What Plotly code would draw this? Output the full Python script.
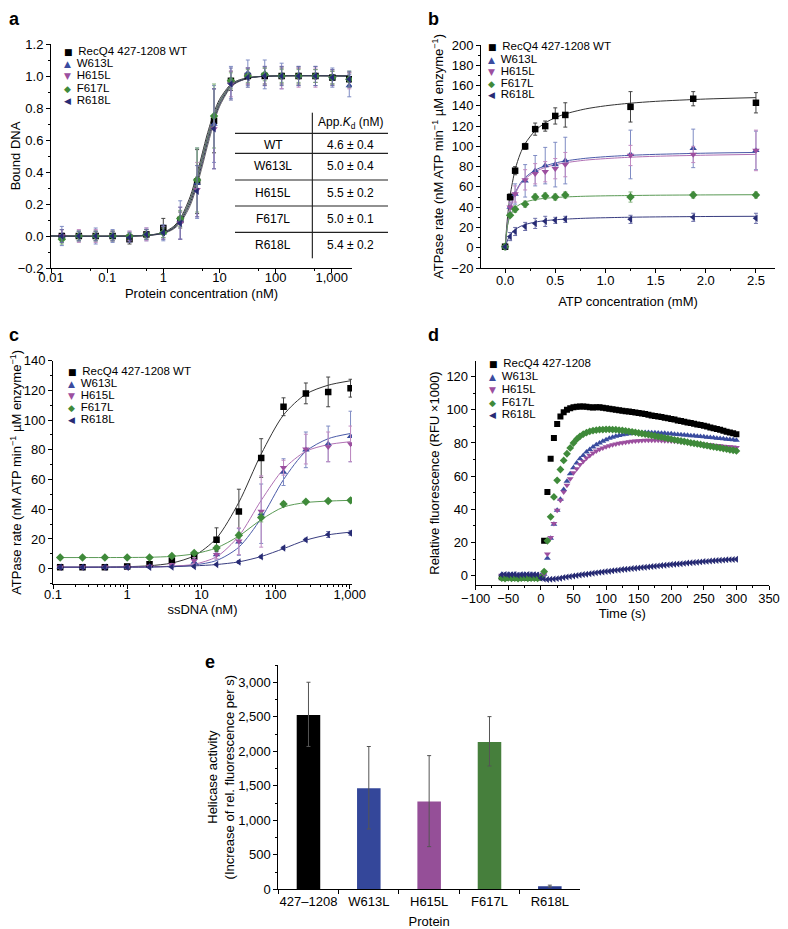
import plotly.graph_objects as go

# The page body keeps its default 8 px margin, so the figure is drawn 8 px
# in from the window's top-left corner; size it to fill the rest exactly.
WIN_W, WIN_H = 788, 929
OFF = 8
W, H = WIN_W - OFF, WIN_H - OFF

# ---------------- shared series info ----------------
series_names = ["RecQ4 427-1208 WT", "W613L", "H615L", "F617L", "R618L"]
series_names_d = ["RecQ4 427-1208", "W613L", "H615L", "F617L", "R618L"]
colors = ["#000000", "#3a4c9f", "#9c4f9f", "#3f8a3a", "#272b74"]
err_colors = ["#444444", "#7f8cc4", "#c08ac2", "#7fae78", "#6c6fa8"]
fit_colors = ["#333333", "#4a5aa8", "#b070b4", "#5a9a55", "#383c80"]
symbols = ["square", "triangle-up", "triangle-down", "diamond", "triangle-left"]
glyphs = ["\u25A0", "\u25B2", "\u25BC", "\u25C6", "\u25C0"]

# ---------------- panel a: DNA binding ----------------
a_conc = [0.0156, 0.0313, 0.0625, 0.125, 0.25, 0.5, 1, 2, 4, 8, 16, 32, 64, 128, 256, 512, 1024, 2048]
a_wt = [0.0, 0.0, 0.0, 0.0, -0.02, 0.01, 0.05, 0.10, 0.34, 0.72, 0.97, 1.0, 1.0, 1.0, 1.0, 1.0, 0.99, 0.98]
a_w613 = [0.0, 0.0, 0.0, 0.0, 0.0, 0.01, 0.02, 0.10, 0.33, 0.70, 0.96, 1.02, 1.01, 1.0, 1.0, 1.0, 0.99, 0.94]
a_h615 = [0.0, 0.0, 0.0, 0.0, 0.0, 0.01, 0.02, 0.08, 0.29, 0.67, 0.95, 1.0, 1.0, 0.99, 0.99, 0.99, 0.99, 0.97]
a_f617 = [-0.02, 0.0, 0.0, 0.0, 0.0, 0.01, 0.02, 0.11, 0.35, 0.75, 0.97, 1.0, 1.01, 1.0, 1.0, 1.0, 0.99, 0.98]
a_r618 = [0.0, 0.0, 0.0, 0.0, -0.01, 0.01, 0.02, 0.08, 0.28, 0.67, 0.95, 0.99, 1.0, 1.0, 1.0, 1.0, 0.99, 0.98]
a_wt_err = [0.04, 0.03, 0.03, 0.03, 0.03, 0.03, 0.06, 0.05, 0.20, 0.20, 0.06, 0.05, 0.05, 0.05, 0.05, 0.04, 0.04, 0.04]
a_w613_err = [0.06, 0.03, 0.05, 0.04, 0.03, 0.04, 0.05, 0.12, 0.22, 0.24, 0.10, 0.08, 0.09, 0.08, 0.06, 0.06, 0.06, 0.07]
a_h615_err = [0.04, 0.04, 0.04, 0.03, 0.03, 0.04, 0.04, 0.10, 0.17, 0.25, 0.08, 0.05, 0.06, 0.07, 0.06, 0.06, 0.05, 0.05]
a_f617_err = [0.03, 0.03, 0.03, 0.03, 0.02, 0.03, 0.03, 0.05, 0.20, 0.20, 0.05, 0.04, 0.04, 0.04, 0.04, 0.04, 0.04, 0.05]
a_r618_err = [0.04, 0.03, 0.03, 0.03, 0.03, 0.03, 0.04, 0.10, 0.16, 0.25, 0.10, 0.06, 0.06, 0.06, 0.06, 0.06, 0.05, 0.05]
# fitted binding curves
a_fit_x = [0.01, 0.5, 1, 1.5, 2, 3, 4, 5, 6, 8, 10, 15, 20, 40, 2100]
a_fit_wt = [0.0, 0.004, 0.023, 0.058, 0.109, 0.245, 0.392, 0.524, 0.631, 0.773, 0.853, 0.939, 0.969, 0.994, 1.0]
a_fit_w613 = [0.0, 0.004, 0.021, 0.053, 0.100, 0.227, 0.369, 0.500, 0.608, 0.755, 0.840, 0.933, 0.965, 0.993, 1.0]
a_fit_h615 = [0.0, 0.003, 0.016, 0.042, 0.081, 0.189, 0.318, 0.443, 0.552, 0.711, 0.808, 0.917, 0.957, 0.992, 1.0]
a_fit_f617 = [0.0, 0.004, 0.020, 0.051, 0.097, 0.221, 0.360, 0.490, 0.598, 0.747, 0.833, 0.930, 0.963, 0.993, 1.0]
a_fit_r618 = [0.0, 0.003, 0.018, 0.047, 0.089, 0.205, 0.338, 0.465, 0.575, 0.730, 0.820, 0.924, 0.960, 0.992, 1.0]
# table
kd_rows = ["WT", "W613L", "H615L", "F617L", "R618L"]
kd_vals = ["4.6 \u00b1 0.4", "5.0 \u00b1 0.4", "5.5 \u00b1 0.2", "5.0 \u00b1 0.1", "5.4 \u00b1 0.2"]

# ---------------- panel b: ATPase vs ATP ----------------
b_atp = [0.0, 0.05, 0.1, 0.2, 0.3, 0.4, 0.5, 0.6, 1.25, 1.875, 2.5]
b_wt = [1, 50, 76, 100, 117, 120, 130, 131, 139, 147, 143]
b_w613 = [1, 40, 53, 66, 76, 81, 82, 86, 92, 98, 96]
b_h615 = [1, 40, 53, 67, 73, 75, 78, 82, 91, 92, 96]
b_f617 = [1, 32, 38, 43, 50, 51, 50, 52, 50, 52, 52]
b_r618 = [1, 11, 16, 21, 24, 26, 27, 28, 28, 30, 29]
b_wt_err = [0, 3, 4, 3, 6, 5, 8, 12, 15, 7, 10]
b_w613_err = [0, 5, 10, 16, 15, 18, 22, 23, 24, 19, 19]
b_h615_err = [0, 5, 8, 10, 10, 10, 10, 12, 10, 8, 20]
b_f617_err = [0, 2, 3, 3, 3, 3, 3, 3, 5, 3, 3]
b_r618_err = [0, 4, 4, 4, 5, 5, 3, 3, 4, 4, 5]
b_fit_x = [0, 0.025, 0.05, 0.1, 0.15, 0.2, 0.3, 0.4, 0.5, 0.6, 0.8, 1.0, 1.25, 1.5, 2.0, 2.5]
b_fit_wt = [0, 30.8, 51.3, 77.0, 92.4, 102.7, 115.5, 123.2, 128.3, 132.0, 136.9, 140.0, 142.6, 144.4, 146.7, 148.1]
b_fit_w613 = [0, 23.1, 37.3, 53.9, 63.3, 69.3, 76.6, 80.8, 83.6, 85.6, 88.2, 89.8, 91.2, 92.1, 93.3, 94.0]
b_fit_h615 = [0, 22.6, 36.5, 52.8, 62.0, 67.9, 75.0, 79.2, 81.9, 83.8, 86.4, 87.9, 89.3, 90.2, 91.3, 92.1]
b_fit_f617 = [0, 22.1, 31.2, 39.3, 42.9, 45.1, 47.5, 48.8, 49.5, 50.1, 50.8, 51.2, 51.5, 51.8, 52.1, 52.3]
b_fit_r618 = [0, 7.6, 12.3, 17.8, 20.9, 22.9, 25.3, 26.7, 27.6, 28.2, 29.1, 29.6, 30.1, 30.4, 30.8, 31.0]

# ---------------- panel c: ATPase vs ssDNA ----------------
c_dna = [0.125, 0.25, 0.5, 1, 2, 4, 8, 16, 32, 64, 128, 256, 512, 1024]
c_wt = [1, 1, 1, 1.5, 3, 5.5, 8.5, 19.5, 38.5, 74.5, 109, 118, 119, 121.5]
c_w613 = [1, 1, 1, 1, 1.5, 2, 4.5, 9.5, 18, 37, 65, 80, 84, 89]
c_h615 = [1, 1, 1, 1, 1.5, 2.5, 5.5, 9.5, 18.5, 38.5, 68, 80.5, 82, 84]
c_f617 = [7.5, 7.5, 7.5, 7.5, 7.5, 8.5, 10.5, 14, 22.5, 34.5, 43.5, 45, 45.5, 46]
c_r618 = [1, 1, 1, 1, 1, 1.2, 1.5, 2.8, 4.5, 8, 14, 19.5, 23, 24]
c_wt_err = [0.5, 0.5, 0.5, 0.5, 1, 1.5, 3, 8, 15, 13, 6, 7, 10, 6]
c_w613_err = [0.5, 0.5, 0.5, 0.5, 0.5, 1, 2, 3, 9, 20, 9, 12, 12, 17]
c_h615_err = [0.5, 0.5, 0.5, 0.5, 0.5, 1, 2, 3, 9, 24, 5, 10, 10, 12]
c_f617_err = [0.5, 0.5, 0.5, 0.5, 0.5, 1, 1, 1.5, 2, 3, 1.5, 1, 1, 1]
c_r618_err = [0.5, 0.5, 0.5, 0.5, 0.5, 0.5, 0.5, 0.5, 1, 1, 1, 1, 2, 1.5]
c_fit_x = [0.125, 0.5, 1, 2, 4, 8, 16, 32, 64, 128, 256, 512, 1024]
c_fit_wt = [1.0, 1.1, 1.35, 2.0, 3.8, 8.7, 20.5, 44.7, 77.2, 103.5, 117.5, 123.5, 126.5]
c_fit_w613 = [1.0, 1.0, 1.05, 1.2, 1.6, 2.5, 5.5, 14.5, 34, 60, 79, 87.5, 91]
c_fit_h615 = [1.0, 1.0, 1.05, 1.2, 1.7, 3.0, 8, 22, 46, 67, 79, 83.5, 85.5]
c_fit_f617 = [7.5, 7.5, 7.55, 7.7, 8.3, 10, 14, 22, 33, 41.5, 44.5, 45.5, 46]
c_fit_r618 = [1.0, 1.0, 1.05, 1.15, 1.4, 1.9, 2.8, 4.6, 8.2, 13.5, 19.2, 22.8, 24.6]

# ---------------- panel d: helicase time course ----------------
d_time = list(range(-60, 305, 5))
d_wt = [-1.0, -1.2, -0.8, -1.0, -1.3, -0.9, -1.1, -1.0, -1.2, -0.9, -1.0, -1.1, -0.8,
        21, 50.5, 70.5, 83, 91.5, 96, 98.5, 100, 101, 101.5, 101.8, 102, 102, 101.8, 101.6, 101.4,
        101.5, 101.6, 101.2, 101, 100.6, 100.3, 100, 99.8, 99.5, 99.2, 99, 98.6, 98.3, 98,
        97.7, 97.4, 97, 96.6, 96.3, 96, 95.6, 95.2, 94.9, 94.5, 94.1, 93.6, 93.2, 92.8,
        92.4, 92, 91.6, 91.2, 90.8, 90.4, 89.9, 89.4, 88.9, 88.4, 87.9, 87.3, 86.8, 86.3, 85.8, 85.2]
d_w613 = [0.8, 0.6, 0.9, 0.7, 0.8, 0.5, 0.7, 0.9, 0.6, 0.8, 0.7, 0.6, 0.3,
          0.8, 10.5, 22.5, 31, 39.5, 46, 52, 57, 61.5, 65, 68, 70.5, 72.5, 74.5, 76, 77.5,
          79, 80, 81, 82, 82.8, 83.5, 84, 84.5, 85, 85.3, 85.6, 85.8, 86, 86.1,
          86.2, 86.3, 86.3, 86.2, 86.1, 86, 85.9, 85.8, 85.6, 85.5, 85.3, 85.1, 85, 84.8,
          84.6, 84.4, 84.3, 84.1, 83.9, 83.7, 83.5, 83.3, 83.1, 82.9, 82.7, 82.5, 82.3, 82.1, 81.9, 81.7]
d_h615 = [0.2, 0.0, 0.3, 0.1, -0.1, 0.2, 0.0, 0.1, 0.3, 0.0, 0.1, 0.2, 0.0,
          1.0, 13, 23, 31.5, 39.5, 45.5, 50.5, 54.5, 58.5, 62, 64.5, 67, 69, 71, 72.5, 74,
          75.2, 76.2, 77, 77.8, 78.4, 79, 79.4, 79.8, 80.2, 80.5, 80.8, 81, 81.2, 81.4,
          81.5, 81.6, 81.7, 81.7, 81.7, 81.6, 81.5, 81.4, 81.3, 81.2, 81.0, 80.9, 80.7, 80.5,
          80.3, 80.1, 79.9, 79.7, 79.5, 79.3, 79.1, 78.9, 78.7, 78.5, 78.3, 78.1, 77.9, 77.7, 77.5, 77.3]
d_f617 = [-1.5, -1.7, -1.3, -1.6, -1.4, -1.8, -1.5, -1.3, -1.6, -1.5, -1.4, -1.6, -1.0,
          2.5, 21, 35.5, 47.5, 57.5, 64, 69.5, 73.5, 77, 80, 82.3, 84, 85.3, 86.3, 87, 87.5,
          87.8, 88, 88.1, 88.2, 88.2, 88.1, 88, 87.8, 87.6, 87.3, 87, 86.7, 86.4, 86,
          85.7, 85.3, 85, 84.6, 84.2, 83.8, 83.5, 83.1, 82.7, 82.3, 81.9, 81.6, 81.2, 80.9,
          80.5, 80.1, 79.8, 79.4, 79.1, 78.7, 78.4, 78, 77.7, 77.3, 77, 76.6, 76.3, 75.9, 75.6, 75.2]
d_r618 = [0.5, 0.8, 0.4, 0.6, 0.7, 0.3, 0.6, 0.5, 0.8, 0.4, 0.6, 0.5, -1.5,
          -2.0, -2.3, -2.2, -2.0, -1.8, -1.5, -1.1, -0.8, -0.5, -0.2, 0.1, 0.4, 0.7, 0.9, 1.2, 1.5,
          1.7, 2.0, 2.2, 2.5, 2.7, 3.0, 3.2, 3.4, 3.7, 3.9, 4.1, 4.3, 4.5, 4.7,
          4.9, 5.1, 5.3, 5.5, 5.7, 5.9, 6.1, 6.3, 6.5, 6.7, 6.9, 7.0, 7.2, 7.4,
          7.6, 7.8, 7.9, 8.1, 8.3, 8.5, 8.6, 8.8, 9.0, 9.1, 9.3, 9.4, 9.6, 9.7, 9.8, 9.9]

# ---------------- panel e: helicase activity ----------------
e_proteins = ["427\u20131208", "W613L", "H615L", "F617L", "R618L"]
e_activity = [2525, 1464, 1271, 2135, 45]
e_err_plus = [475, 605, 666, 367, 15]
e_err_minus = [455, 590, 653, 348, 15]
e_colors = ["#000000", "#34479a", "#954f98", "#467f3c", "#283a8c"]

# ======================================================
FONT = "Liberation Sans, Arial, Helvetica, sans-serif"
FS = 13
fig = go.Figure()


def add_points(xs, ys, errs, i, xa, ya, size=6):
    fig.add_trace(go.Scatter(
        x=xs, y=ys, mode="markers", xaxis=xa, yaxis=ya, showlegend=False,
        marker=dict(symbol=symbols[i], color=colors[i], size=size, line=dict(width=0)),
        error_y=dict(type="data", array=errs, color=err_colors[i], thickness=1, width=2)))


def add_fit(xs, ys, i, xa, ya, col=None):
    fig.add_trace(go.Scatter(
        x=xs, y=ys, mode="lines", xaxis=xa, yaxis=ya, showlegend=False, hoverinfo="skip",
        line=dict(color=col or fit_colors[i], width=1, shape="spline", smoothing=0.8)))


# panel a
a_fits = [a_fit_wt, a_fit_w613, a_fit_h615, a_fit_f617, a_fit_r618]
a_vals = [a_wt, a_w613, a_h615, a_f617, a_r618]
a_errs = [a_wt_err, a_w613_err, a_h615_err, a_f617_err, a_r618_err]
for i in range(5):
    add_fit(a_fit_x, a_fits[i], i, "x", "y", col=["#333333", "#555577", "#666666", "#557755", "#333355"][i])
for i in range(5):
    add_points(a_conc, a_vals[i], a_errs[i], i, "x", "y", size=6.5)

# panel b
b_fits = [b_fit_wt, b_fit_w613, b_fit_h615, b_fit_f617, b_fit_r618]
b_vals = [b_wt, b_w613, b_h615, b_f617, b_r618]
b_errs = [b_wt_err, b_w613_err, b_h615_err, b_f617_err, b_r618_err]
for i in range(5):
    add_fit(b_fit_x, b_fits[i], i, "x2", "y2")
for i in range(5):
    add_points(b_atp, b_vals[i], b_errs[i], i, "x2", "y2", size=6.5)

# panel c
c_fits = [c_fit_wt, c_fit_w613, c_fit_h615, c_fit_f617, c_fit_r618]
c_vals = [c_wt, c_w613, c_h615, c_f617, c_r618]
c_errs = [c_wt_err, c_w613_err, c_h615_err, c_f617_err, c_r618_err]
for i in range(5):
    add_fit(c_fit_x, c_fits[i], i, "x3", "y3")
for i in range(5):
    add_points(c_dna, c_vals[i], c_errs[i], i, "x3", "y3", size=6.5)

# panel d
d_vals = [d_wt, d_w613, d_h615, d_f617, d_r618]
for i in range(5):
    fig.add_trace(go.Scatter(
        x=d_time, y=d_vals[i], mode="markers", xaxis="x4", yaxis="y4", showlegend=False,
        marker=dict(symbol=symbols[i], color=colors[i], size=6, line=dict(width=0))))

# panel e
fig.add_trace(go.Bar(
    x=e_proteins, y=e_activity, xaxis="x5", yaxis="y5", showlegend=False, width=0.39,
    marker=dict(color=e_colors, line=dict(width=0)),
    error_y=dict(type="data", array=e_err_plus, arrayminus=e_err_minus, color="#555555",
                 thickness=1, width=2)))


# window-pixel -> paper helpers
def dx(p0, p1):
    return [(p0 - OFF) / W, (p1 - OFF) / W]


def dy(top, bot):
    return [1 - (bot - OFF) / H, 1 - (top - OFF) / H]


def px(x, y):
    return (x - OFF) / W, 1 - (y - OFF) / H


tickfont = dict(family=FONT, size=FS, color="black")
titlefont = dict(family=FONT, size=FS, color="black")
base = dict(showline=True, linecolor="black", linewidth=1, ticks="outside", ticklen=4,
            tickwidth=1, tickcolor="black", showgrid=False, zeroline=False, tickfont=tickfont,
            tickangle=0, automargin=False, ticklabeloverflow="allow")


def minor(d=None, vals=None):
    m = dict(ticks="outside", ticklen=2, tickwidth=1, tickcolor="black", showgrid=False)
    if d is not None:
        m["dtick"] = d
    if vals is not None:
        m["tickmode"] = "array"
        m["tickvals"] = vals
    return m


fig.update_layout(
    width=W, height=H, margin=dict(l=0, r=0, t=0, b=0, autoexpand=False),
    paper_bgcolor="white", plot_bgcolor="white",
    font=dict(family=FONT, size=FS, color="black"),
    xaxis=dict(base, type="log", domain=dx(51, 352), range=[-2, 3.36], anchor="y",
               tickvals=[0.01, 0.1, 1, 10, 100, 1000],
               ticktext=["0.01", "0.1", "1", "10", "100", "1,000"],
               minor=minor(vals=[0.05, 0.5, 5, 50, 500]), ticklabelstandoff=-7,
               title=dict(text="Protein concentration (nM)", font=titlefont, standoff=5)),
    yaxis=dict(base, domain=dy(44, 268), range=[-0.2, 1.2], anchor="x", dtick=0.2,
               tickformat=".1f", minor=minor(0.1),
               title=dict(text="Bound DNA", font=titlefont, standoff=1)),
    xaxis2=dict(base, domain=dx(481, 775), range=[-0.24, 2.69], anchor="y2", dtick=0.5,
                tickformat=".1f", minor=minor(0.25), ticklabelstandoff=-4,
                title=dict(text="ATP concentration (mM)", font=titlefont, standoff=10)),
    yaxis2=dict(base, domain=dy(45, 268), range=[-20, 200], anchor="x2", dtick=20,
                minor=minor(10),
                title=dict(text="ATPase rate (nM ATP min<sup>\u22121</sup> \u00b5M enzyme<sup>\u22121</sup>)",
                           font=titlefont, standoff=4)),
    xaxis3=dict(base, type="log", domain=dx(53, 352), range=[-1, 3.03], anchor="y3",
                tickvals=[0.1, 1, 10, 100, 1000], ticktext=["0.1", "1", "10", "100", "1,000"],
                minor=minor("D1"), ticklabelstandoff=-6,
                title=dict(text="ssDNA (nM)", font=titlefont, standoff=3)),
    yaxis3=dict(base, domain=dy(360.7, 584), range=[-10.3, 140], anchor="x3", dtick=20,
                minor=minor(10),
                title=dict(text="ATPase rate (nM ATP min<sup>\u22121</sup> \u00b5M enzyme<sup>\u22121</sup>)",
                           font=titlefont, standoff=2)),
    xaxis4=dict(base, domain=dx(475.7, 769), range=[-100, 350], anchor="y4", dtick=50,
                minor=minor(25), ticklabelstandoff=-3,
                title=dict(text="Time (s)", font=titlefont, standoff=0)),
    yaxis4=dict(base, domain=dy(360.7, 585.3), range=[-5.8, 129.6], anchor="x4", dtick=20,
                minor=minor(10),
                title=dict(text="Relative fluorescence (RFU \u00d71000)", font=titlefont, standoff=3)),
    xaxis5=dict(base, domain=dx(278.3, 580), range=[-0.5, 4.5], anchor="y5", type="category",
                tickson="boundaries",
                title=dict(text="Protein", font=titlefont, standoff=9)),
    yaxis5=dict(base, domain=dy(665, 889.3), range=[0, 3250], anchor="x5", dtick=500,
                tickformat=",", minor=minor(250),
                title=dict(text="Helicase activity<br>(Increase of rel. fluorescence per s)",
                           font=titlefont, standoff=0)),
)

ann = []
shapes = []

# panel letters (kept inside the drawable area)
for letter, (lx, ly) in zip("abcde", [(14, 19), (434, 19), (14, 335), (434, 335), (210, 662)]):
    x, y = px(lx, ly)
    ann.append(dict(text=f"<b>{letter}</b>", x=x, y=y, xref="paper", yref="paper",
                    showarrow=False, xanchor="center", yanchor="middle",
                    font=dict(family=FONT, size=18, color="black")))


# legends: coloured symbol glyph + label in one text item per row
def legend(names, gx, rows):
    for i, nm in enumerate(names):
        x, y = px(gx, rows[i])
        txt = (f'<span style="color:{colors[i]};font-family:DejaVu Sans;font-size:9px">'
               f'{glyphs[i]}</span>\u2002{nm}')
        ann.append(dict(text=txt, x=x, y=y, xref="paper", yref="paper", showarrow=False,
                        xanchor="left", yanchor="middle",
                        font=dict(family=FONT, size=11.5, color="black")))


legend(series_names, 62, [50.7, 63, 75.3, 87.7, 100])
legend(series_names, 486, [46, 59, 71, 82.7, 94])
legend(series_names, 66, [370.7, 382.7, 395, 407.3, 419.3])
legend(series_names_d, 487, [363.3, 376, 389, 401.7, 414.3])

# K_d table in panel a
x0, y0 = px(312.3, 112.7)
x1, y1 = px(312.3, 258.3)
shapes.append(dict(type="line", xref="paper", yref="paper", x0=x0, y0=y0, x1=x1, y1=y1,
                   line=dict(color="black", width=1)))
for ly in [133.3, 153.3, 180, 206, 232.3]:
    xa, ya = px(235, ly)
    xb, yb = px(388, ly)
    shapes.append(dict(type="line", xref="paper", yref="paper", x0=xa, y0=ya, x1=xb, y1=yb,
                       line=dict(color="#222222", width=1.2)))
x, y = px(350, 123)
ann.append(dict(text="App.<i>K</i><sub>d</sub> (nM)", x=x, y=y, xref="paper", yref="paper",
                showarrow=False, xanchor="center", yanchor="middle",
                font=dict(family=FONT, size=12, color="black")))
for i, (r, v) in enumerate(zip(kd_rows, kd_vals)):
    ry = [145, 166, 193, 219, 245][i]
    x, y = px(273, ry)
    ann.append(dict(text=r, x=x, y=y, xref="paper", yref="paper", showarrow=False,
                    xanchor="center", yanchor="middle", font=dict(family=FONT, size=12, color="black")))
    x, y = px(350, ry)
    ann.append(dict(text=v, x=x, y=y, xref="paper", yref="paper", showarrow=False,
                    xanchor="center", yanchor="middle", font=dict(family=FONT, size=12, color="black")))

fig.update_layout(annotations=ann, shapes=shapes)
fig.write_html("out.html")
